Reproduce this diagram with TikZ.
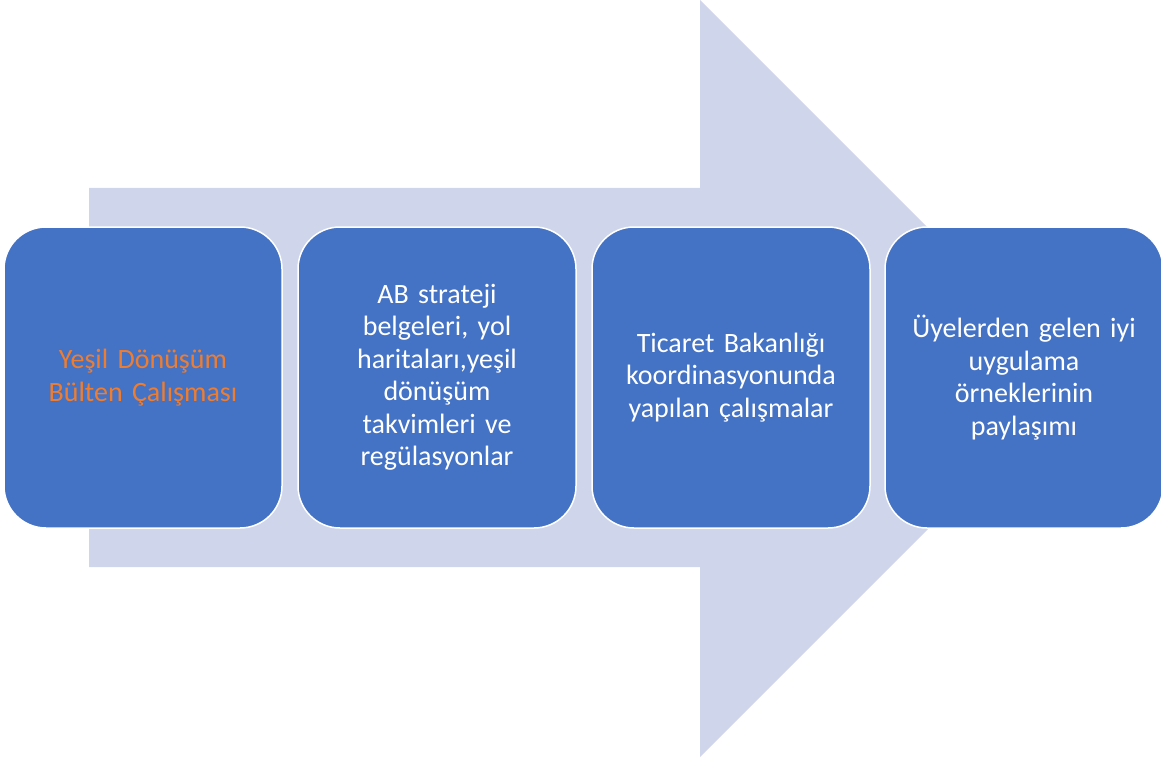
\documentclass[tikz,border=0pt]{standalone}
\usepackage{fontspec}
\setmainfont{Carlito}
\definecolor{arrowfill}{HTML}{CFD5EA}
\definecolor{boxfill}{HTML}{4472C4}
\definecolor{orangetext}{HTML}{ED7D31}
\begin{document}
\begin{tikzpicture}[x=1pt,y=-1pt,
  stepbox/.style={rectangle, rounded corners=42pt, fill=boxfill, draw=white, line width=1.5pt,
    minimum width=278pt, minimum height=301pt, text width=262pt, align=center,
    text=white, font=\fontsize{28}{32.5}\selectfont, inner sep=0pt}]
\useasboundingbox (0,0) rectangle (1161,762);
\fill[arrowfill] (89,188) -- (700,188) -- (700,0) -- (1078.5,378.5) -- (700,757) -- (700,567) -- (89,567) -- cycle;
\node[stepbox, text=orangetext] (b1) at (143,377.5) {Yeşil Dönüşüm\\Bülten Çalışması};
\node[stepbox] (b2) at (437,377.5) {AB strateji\\belgeleri, yol\\haritaları,yeşil\\dönüşüm\\takvimleri ve\\regülasyonlar};
\node[stepbox] (b3) at (731,377.5) {Ticaret Bakanlığı\\koordinasyonunda\\yapılan çalışmalar};
\node[stepbox] (b4) at (1024,377.5) {Üyelerden gelen iyi\\uygulama\\örneklerinin\\paylaşımı};
\end{tikzpicture}
\end{document}
